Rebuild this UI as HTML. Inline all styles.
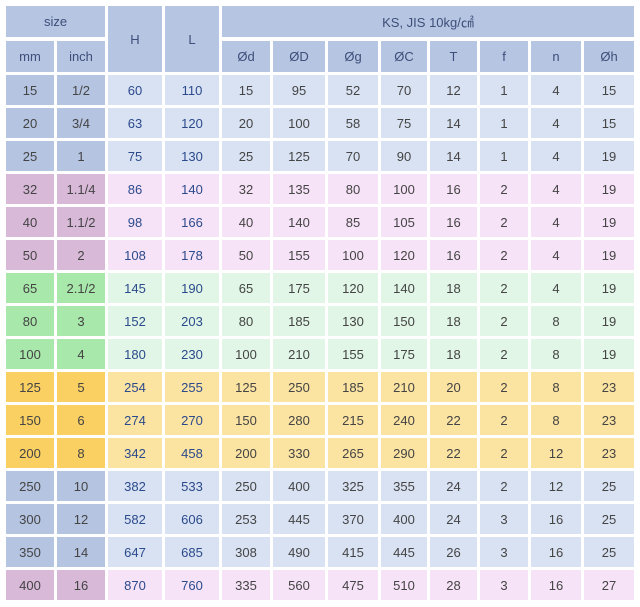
<!DOCTYPE html>
<html><head><meta charset="utf-8"><style>
body{margin:0;width:640px;height:607px;background:#fff;font-family:"Liberation Sans","Noto Sans CJK KR",sans-serif;position:relative;overflow:hidden}
.c{position:absolute;display:flex;align-items:center;justify-content:center;font-size:13px;color:#444}
.h{background:#b5c5e2;color:#3d4f7a}
</style></head><body>
<div class="c h" style="left:6px;top:6px;width:99px;height:31px">size</div>
<div class="c h" style="left:6px;top:41px;width:48px;height:31px">mm</div>
<div class="c h" style="left:57px;top:41px;width:48px;height:31px">inch</div>
<div class="c h" style="left:108px;top:6px;width:54px;height:66px">H</div>
<div class="c h" style="left:165px;top:6px;width:54px;height:66px">L</div>
<div class="c h" style="left:222px;top:6px;width:412px;height:31px">KS, JIS 10kg/㎠</div>
<script>
const colX=[6,57,108,165,222,273,328,381,430,480,531,584];
const colW=[48,48,54,54,48,52,50,46,47,48,50,50];
const subHeads=["Ød","ØD","Øg","ØC","T","f","n","Øh"];
const rows=[
["15","1/2","60","110","15","95","52","70","12","1","4","15"],
["20","3/4","63","120","20","100","58","75","14","1","4","15"],
["25","1","75","130","25","125","70","90","14","1","4","19"],
["32","1.1/4","86","140","32","135","80","100","16","2","4","19"],
["40","1.1/2","98","166","40","140","85","105","16","2","4","19"],
["50","2","108","178","50","155","100","120","16","2","4","19"],
["65","2.1/2","145","190","65","175","120","140","18","2","4","19"],
["80","3","152","203","80","185","130","150","18","2","8","19"],
["100","4","180","230","100","210","155","175","18","2","8","19"],
["125","5","254","255","125","250","185","210","20","2","8","23"],
["150","6","274","270","150","280","215","240","22","2","8","23"],
["200","8","342","458","200","330","265","290","22","2","12","23"],
["250","10","382","533","250","400","325","355","24","2","12","25"],
["300","12","582","606","253","445","370","400","24","3","16","25"],
["350","14","647","685","308","490","415","445","26","3","16","25"],
["400","16","870","760","335","560","475","510","28","3","16","27"]];
const groups=["b","b","b","p","p","p","g","g","g","y","y","y","b","b","b","p"];
const dark={b:"#b5c4e1",p:"#d8b9d8",g:"#a9e8ab",y:"#fbd062"};
const light={b:"#d9e2f3",p:"#f7e3f7",g:"#e1f6e6",y:"#fbe3a2"};
subHeads.forEach((t,i)=>{const d=document.createElement('div');d.className='c h';


d.style.cssText=`left:${colX[i+4]}px;top:41px;width:${colW[i+4]}px;height:31px`;d.textContent=t;document.body.appendChild(d);});
rows.forEach((r,ri)=>{r.forEach((v,ci)=>{const d=document.createElement('div');d.className='c';


const y=75+ri*33;
d.style.cssText=`left:${colX[ci]}px;top:${y}px;width:${colW[ci]}px;height:30px;background:${ci<2?dark[groups[ri]]:light[groups[ri]]};color:${(ci==2||ci==3)?'#2b4a8c':'#444'}`;
d.textContent=v;document.body.appendChild(d);});});
</script>
</body></html>
